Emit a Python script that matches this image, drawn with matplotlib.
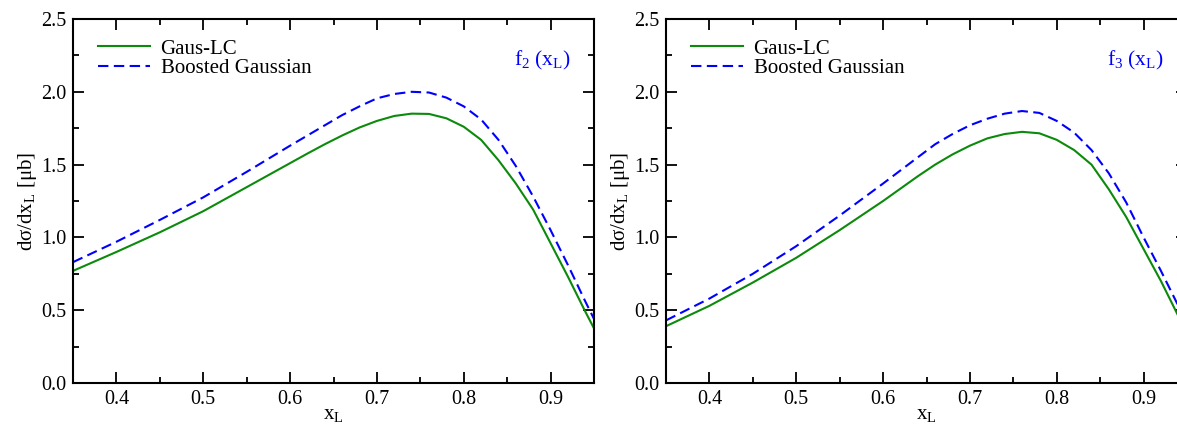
import matplotlib
matplotlib.use("Agg")
import matplotlib.pyplot as plt
from matplotlib.ticker import MultipleLocator, FormatStrFormatter

plt.rcParams['font.family'] = ['Liberation Serif', 'DejaVu Serif']
plt.rcParams['mathtext.default'] = 'regular'

# x nodes of the curves
x_nodes = [0.35, 0.40, 0.45, 0.50, 0.55, 0.60, 0.62, 0.64, 0.66, 0.68, 0.70,
           0.72, 0.74, 0.76, 0.78, 0.80, 0.82, 0.84, 0.86, 0.88, 0.90, 0.92,
           0.94, 0.96]

# f2 panel
f2_gaus_lc = [0.77, 0.90, 1.035, 1.18, 1.345, 1.51, 1.576, 1.64, 1.70, 1.755,
              1.80, 1.834, 1.85, 1.848, 1.818, 1.76, 1.67, 1.53, 1.37, 1.19,
              0.96, 0.73, 0.49, 0.26]
f2_boosted = [0.83, 0.97, 1.12, 1.275, 1.45, 1.63, 1.70, 1.77, 1.84, 1.90,
              1.955, 1.985, 2.0, 1.995, 1.96, 1.90, 1.81, 1.67, 1.49, 1.28,
              1.05, 0.81, 0.56, 0.32]

# f3 panel
f3_gaus_lc = [0.39, 0.53, 0.69, 0.86, 1.05, 1.25, 1.335, 1.42, 1.50, 1.57,
              1.63, 1.68, 1.71, 1.725, 1.715, 1.67, 1.60, 1.50, 1.33, 1.14,
              0.92, 0.70, 0.46, 0.25]
f3_boosted = [0.43, 0.58, 0.75, 0.94, 1.15, 1.37, 1.46, 1.55, 1.64, 1.71,
              1.77, 1.815, 1.85, 1.868, 1.855, 1.80, 1.72, 1.60, 1.44, 1.24,
              1.00, 0.77, 0.53, 0.31]

panels = [
    (f2_gaus_lc, f2_boosted, "f$_2$ (x$_L$)"),
    (f3_gaus_lc, f3_boosted, "f$_3$ (x$_L$)"),
]

green = '#0b8a0b'
blue = '#0000ff'

fig = plt.figure(figsize=(11.77, 4.26), dpi=100)
lefts = [73 / 1177, 666 / 1177]
w = 521 / 1177
bottom = 43 / 426
h = 364 / 426

for (gaus, boosted, tag), left in zip(panels, lefts):
    ax = fig.add_axes([left, bottom, w, h])
    ax.plot(x_nodes, gaus, color=green, lw=1.5, label='Gaus-LC')
    ax.plot(x_nodes, boosted, color=blue, lw=1.5, dashes=(5, 2.6),
            label='Boosted Gaussian')
    ax.set_xlim(0.35, 0.95)
    ax.set_ylim(0.0, 2.5)
    ax.xaxis.set_major_locator(MultipleLocator(0.1))
    ax.xaxis.set_minor_locator(MultipleLocator(0.05))
    ax.yaxis.set_major_locator(MultipleLocator(0.5))
    ax.yaxis.set_minor_locator(MultipleLocator(0.25))
    ax.xaxis.set_major_formatter(FormatStrFormatter('%.1f'))
    ax.yaxis.set_major_formatter(FormatStrFormatter('%.1f'))
    ax.tick_params(which='both', direction='in', top=True, right=True,
                   width=1.3, labelsize=14.5, colors='black')
    ax.tick_params(which='major', length=8, pad=5)
    ax.tick_params(which='minor', length=4.5)
    for s in ax.spines.values():
        s.set_linewidth(1.5)
    ax.set_xlabel('x$_L$', fontsize=15, labelpad=-3)
    ax.set_ylabel('d\u03c3/dx$_L$ [\u03bcb]', fontsize=15, labelpad=1)
    ax.text(0.90, 0.885, tag, color=blue, fontsize=15.5, ha='center',
            va='center', transform=ax.transAxes)
    ax.legend(loc='upper left', bbox_to_anchor=(0.02, 0.985), frameon=False,
              fontsize=15, handlelength=2.5, handletextpad=0.5,
              labelspacing=0.0, borderaxespad=0.3)

fig.savefig('out.png', dpi=100)
